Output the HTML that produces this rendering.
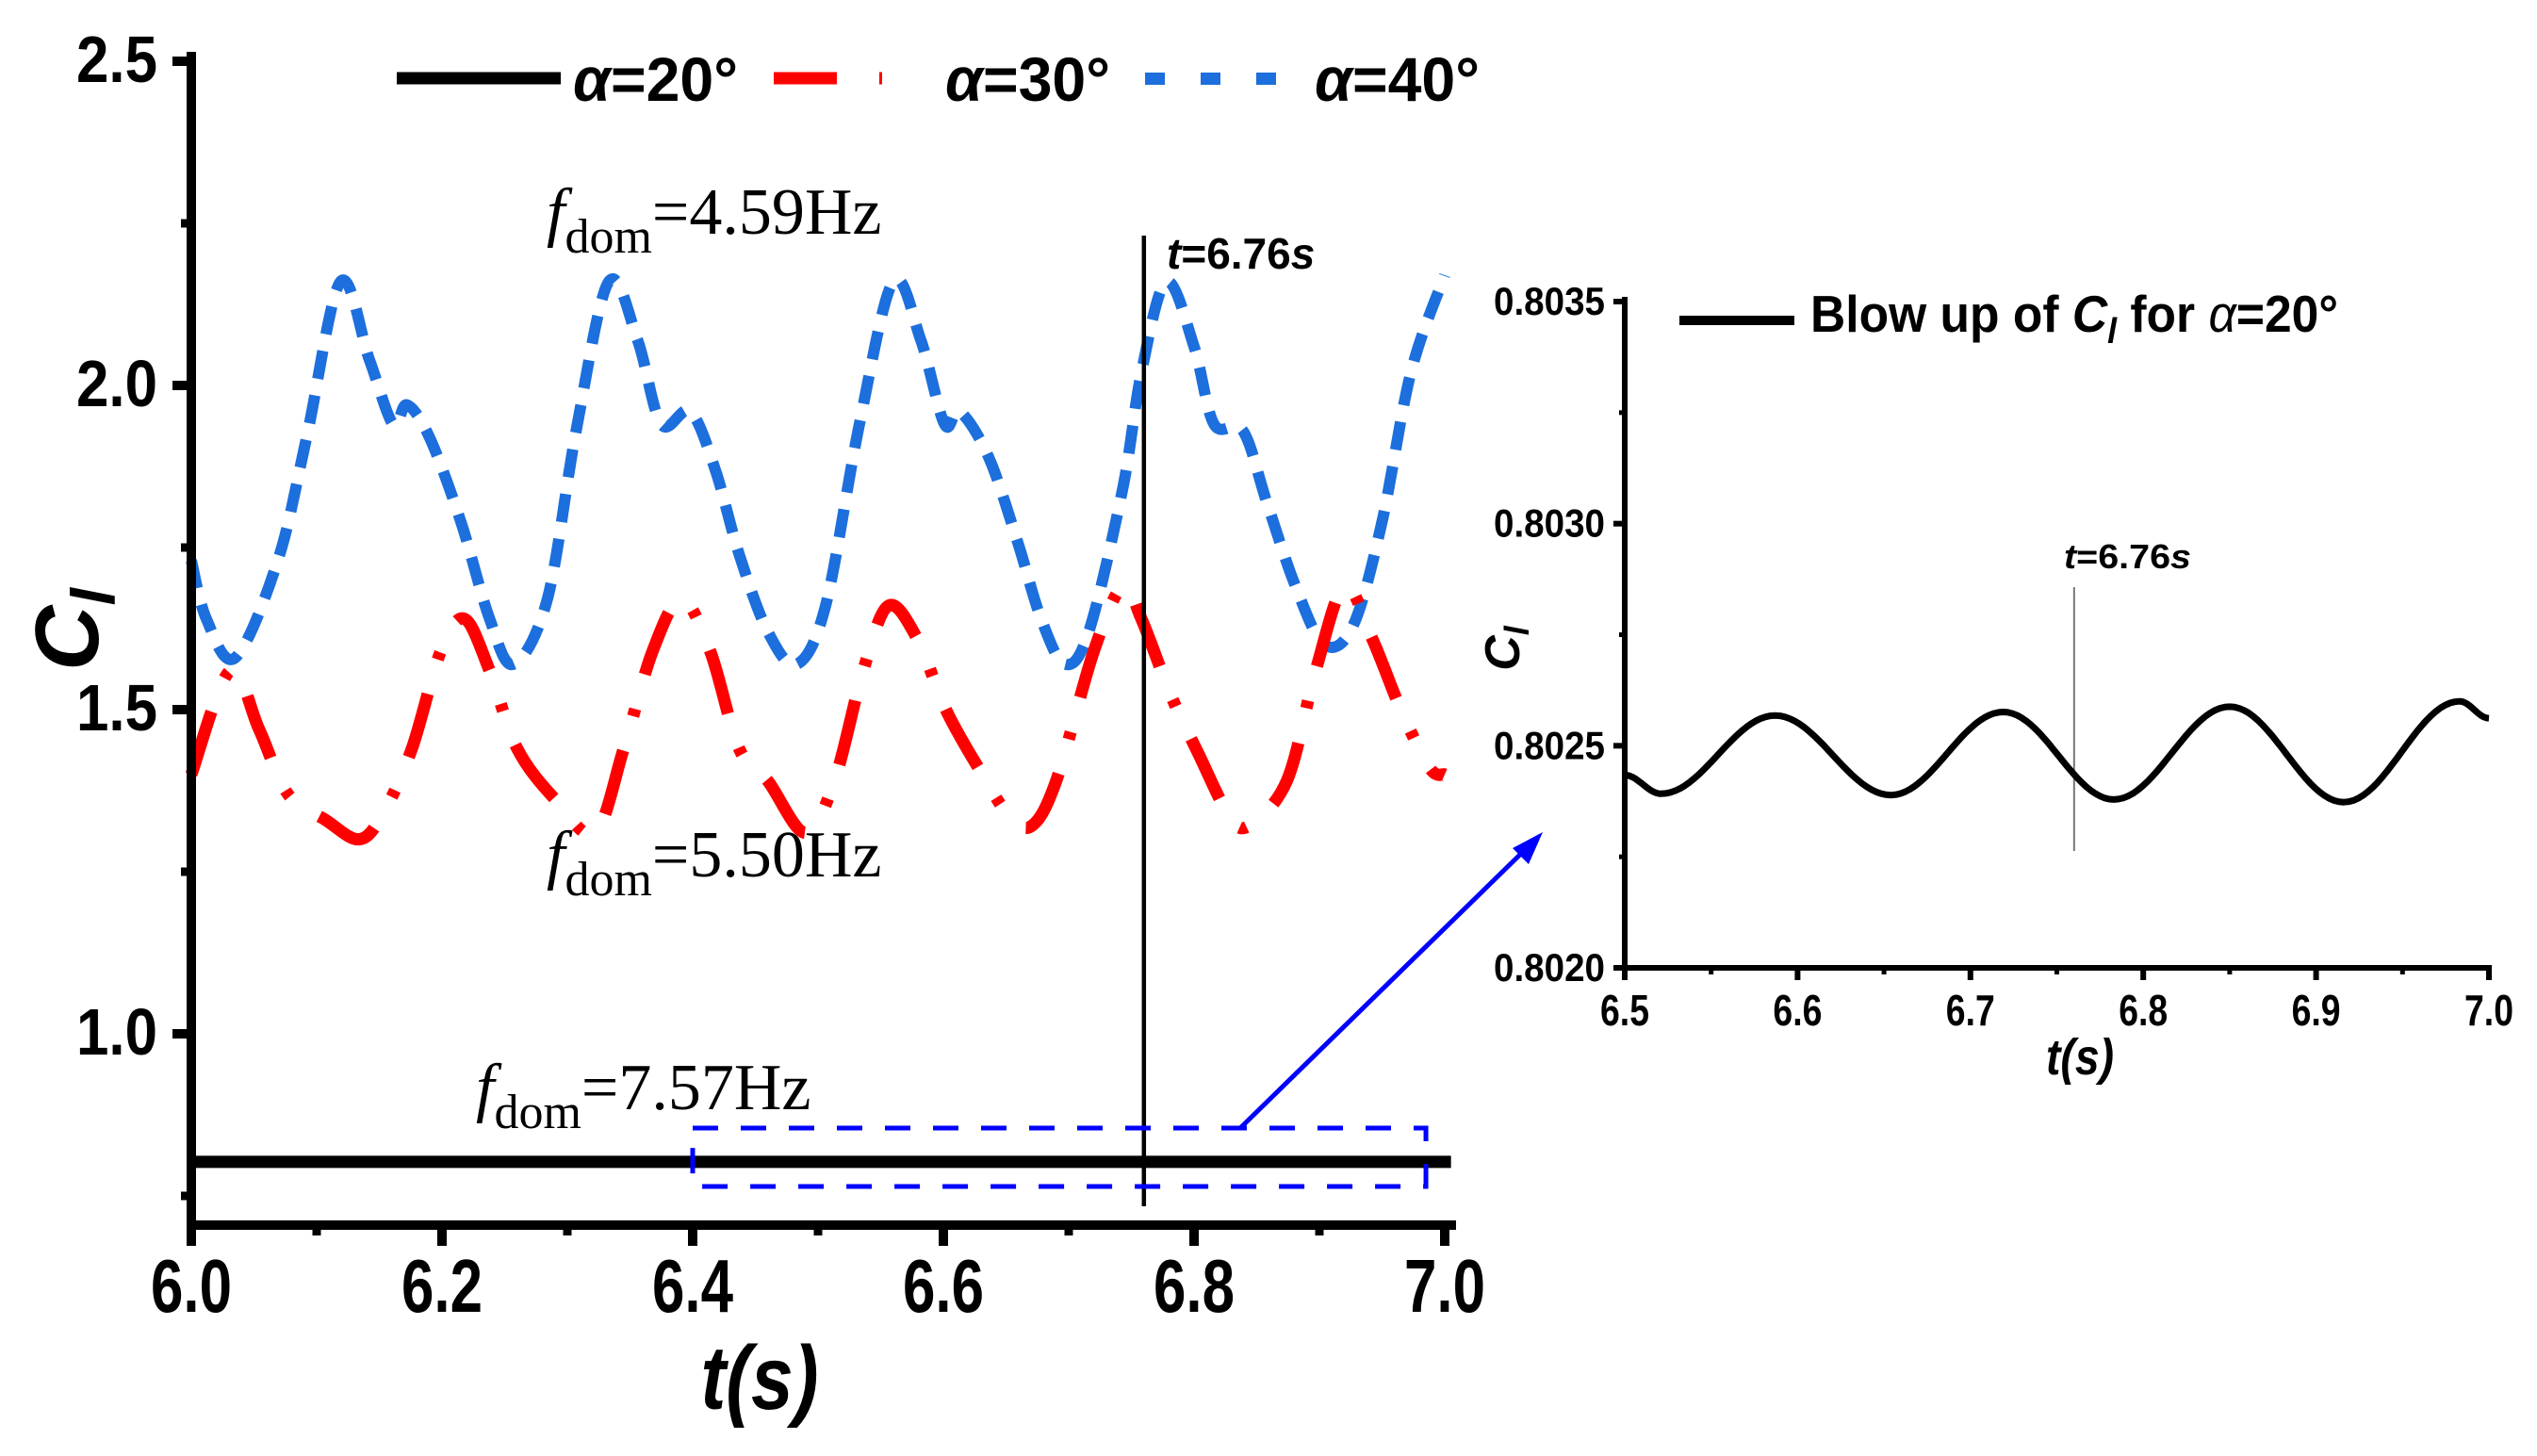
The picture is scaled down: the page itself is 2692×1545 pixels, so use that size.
<!DOCTYPE html>
<html><head><meta charset="utf-8"><style>
html,body{margin:0;padding:0;background:#fff;}
svg{display:block;}
text{font-family:"Liberation Sans",Arial,sans-serif;}
.serif{font-family:"Liberation Serif","Times New Roman",serif;}
</style></head><body>
<svg id="chart" width="2692" height="1545" viewBox="0 0 2692 1545" xmlns="http://www.w3.org/2000/svg">
</svg>
<script>
// ---- main chart data ----
const t40 = [6.0,6.012,6.035,6.069,6.092,6.119,6.142,6.161,6.172,6.19,6.215,6.238,6.257,6.284,6.307,6.333,6.356,6.375,6.398,6.418,6.437,6.46,6.483,6.506,6.533,6.56,6.582,6.601,6.613,6.636,6.659,6.678,6.697,6.716,6.743,6.758,6.778,6.8,6.816,6.839,6.858,6.881,6.904,6.927,6.95,6.973,7.0];
const cl40 = [1.73,1.64,1.58,1.73,1.92,2.16,2.04,1.94,1.97,1.92,1.79,1.64,1.57,1.67,1.93,2.16,2.07,1.94,1.96,1.87,1.74,1.62,1.57,1.66,1.94,2.16,2.07,1.94,1.96,1.89,1.76,1.64,1.57,1.62,1.84,2.02,2.16,2.06,1.94,1.93,1.82,1.69,1.60,1.63,1.79,2.02,2.17];
const t30 = [6.0,6.031,6.054,6.077,6.107,6.134,6.153,6.176,6.199,6.218,6.238,6.26,6.291,6.322,6.345,6.368,6.391,6.414,6.437,6.46,6.49,6.513,6.536,6.556,6.579,6.602,6.628,6.651,6.67,6.69,6.72,6.743,6.758,6.782,6.804,6.827,6.843,6.874,6.897,6.92,6.942,6.965,6.988,7.0];
const cl30 = [1.40,1.56,1.47,1.37,1.33,1.30,1.34,1.44,1.59,1.64,1.56,1.44,1.36,1.31,1.44,1.59,1.67,1.59,1.44,1.39,1.31,1.39,1.56,1.66,1.61,1.50,1.41,1.34,1.32,1.39,1.59,1.69,1.64,1.52,1.43,1.34,1.32,1.39,1.56,1.69,1.61,1.50,1.41,1.40];
const t20 = [6.0,7.005];
const cl20 = [0.8025,0.8025];
const xTicks = ["6.0","6.2","6.4","6.6","6.8","7.0"];
const yTicks = ["1.0","1.5","2.0","2.5"];
// ---- inset data (extrema) ----
const tIn = [6.5,6.521,6.587,6.654,6.719,6.783,6.85,6.916,6.983,7.0];
const clIn = [0.802434,0.802392,0.802568,0.802389,0.802576,0.802379,0.802588,0.802373,0.802600,0.802562];
const xTicksIn = ["6.5","6.6","6.7","6.8","6.9","7.0"];
const yTicksIn = ["0.8020","0.8025","0.8030","0.8035"];

const NS="http://www.w3.org/2000/svg";
const svg=document.getElementById('chart');
function mk(tag,attrs,parent){const e=document.createElementNS(NS,tag);for(const k in attrs)e.setAttribute(k,attrs[k]);(parent||svg).appendChild(e);return e;}
function txt(s,attrs,parent){const e=mk('text',attrs,parent);e.textContent=s;return e;}

const X=t=>203+(t-6)*1330;
const Y=v=>65+(2.5-v)*688;
const XI=t=>1724+(t-6.5)*1834;
const YI=v=>320+(0.8035-v)*(1027-320)/0.0015;

function smooth(xs,ys,fx,fy){
  const p=xs.map((x,i)=>[fx(x),fy(ys[i])]);
  let d=`M${p[0][0]},${p[0][1]}`;
  for(let i=0;i<p.length-1;i++){
    const p0=p[i-1]||p[i],p1=p[i],p2=p[i+1],p3=p[i+2]||p[i+1];
    const c1=[p1[0]+(p2[0]-p0[0])/6,p1[1]+(p2[1]-p0[1])/6];
    const c2=[p2[0]-(p3[0]-p1[0])/6,p2[1]-(p3[1]-p1[1])/6];
    d+=` C${c1[0]},${c1[1]} ${c2[0]},${c2[1]} ${p2[0]},${p2[1]}`;
  }
  return d;
}
function cosPath(xs,ys,fx,fy){
  let d='';
  for(let i=0;i<xs.length-1;i++){
    const n=24;
    for(let k=(i?1:0);k<=n;k++){
      const u=k/n, w=(1-Math.cos(Math.PI*u))/2;
      const t=xs[i]+(xs[i+1]-xs[i])*u, v=ys[i]+(ys[i+1]-ys[i])*w;
      d+=(d?' L':'M')+fx(t).toFixed(1)+','+fy(v).toFixed(1);
    }
  }
  return d;
}

const s40=mk('path',{d:smooth(t40,cl40,X,Y),fill:'none',stroke:'#1c6fdc','stroke-width':12,'stroke-dasharray':'30 18'});


const s30=mk('path',{d:smooth(t30,cl30,X,Y),fill:'none',stroke:'#ff0000','stroke-width':13,'stroke-dasharray':'70 38 8 38'});


const s20=mk('path',{d:`M${X(t20[0])},${Y(cl20[0])} L${X(t20[1])},${Y(cl20[1])}`,fill:'none',stroke:'#000','stroke-width':13});



const ax=mk('path',{d:`M203,60 V1300 H1540`,fill:'none',stroke:'#000','stroke-width':10,'stroke-linecap':'square'});


yTicks.forEach(s=>{const v=parseFloat(s);
  mk('line',{x1:183,x2:203,y1:Y(v),y2:Y(v),stroke:'#000','stroke-width':10});
  const e=txt(s,{x:167,y:Y(v)+22,'text-anchor':'end','font-size':70,'font-weight':'bold',textLength:86,lengthAdjust:'spacingAndGlyphs'});
  
  
});
[0.75,1.25,1.75,2.25].forEach(v=>mk('line',{x1:192,x2:203,y1:Y(v),y2:Y(v),stroke:'#000','stroke-width':9}));
xTicks.forEach(s=>{const t=parseFloat(s);
  mk('line',{x1:X(t),x2:X(t),y1:1300,y2:1322,stroke:'#000','stroke-width':10});
  const e=txt(s,{x:X(t),y:1392,'text-anchor':'middle','font-size':80,'font-weight':'bold',textLength:86,lengthAdjust:'spacingAndGlyphs'});
  
  
});
[6.1,6.3,6.5,6.7,6.9].forEach(t=>mk('line',{x1:X(t),x2:X(t),y1:1300,y2:1311,stroke:'#000','stroke-width':9}));

const xt=txt('t(s)',{x:806,y:1495,'text-anchor':'middle','font-size':96,'font-weight':'bold','font-style':'italic',textLength:125,lengthAdjust:'spacingAndGlyphs'});


const yt=mk('text',{transform:'translate(104,668) rotate(-90)','text-anchor':'middle','font-size':96,'font-weight':'bold','font-style':'italic'});
yt.innerHTML='C<tspan font-size="66" dy="18">l</tspan>';



const lg=mk('g',{});


mk('line',{x1:421,x2:595,y1:83,y2:83,stroke:'#000','stroke-width':13},lg);
mk('line',{x1:821,x2:888,y1:83,y2:83,stroke:'#ff0000','stroke-width':13},lg);
mk('line',{x1:933,x2:936,y1:83,y2:83,stroke:'#ff0000','stroke-width':13},lg);
[1215,1274,1333].forEach(x=>mk('rect',{x:x,y:77,width:21,height:13,fill:'#1c6fdc'},lg));
[['α=20°',608],['α=30°',1003],['α=40°',1395]].forEach(([s,x])=>{
  const e=txt('',{x:x,y:107,'font-size':66,'font-weight':'bold',textLength:175,lengthAdjust:'spacingAndGlyphs'},lg);
  e.innerHTML='<tspan font-style="italic">α</tspan>'+s.slice(1);
  
  
});

[['4.59',580,248],['5.50',580,930],['7.57',505,1177]].forEach(([f,x,y])=>{
  const e=txt('',{x:x,y:y,'font-size':70,class:'serif'});
  e.innerHTML=`<tspan font-style="italic">f</tspan><tspan font-size="52" dy="20">dom</tspan><tspan dy="-20">=${f}Hz</tspan>`;
  
  
});
const vl=mk('line',{x1:X(6.76),x2:X(6.76),y1:250,y2:1280,stroke:'#000','stroke-width':4.5});


const tl=txt('',{x:1238,y:285,'font-size':46,'font-weight':'bold'});
tl.innerHTML='<tspan font-style="italic">t</tspan>=6.76<tspan font-style="italic">s</tspan>';


const zr=mk('rect',{x:X(6.4),y:1197,width:X(6.985)-X(6.4),height:62,fill:'none',stroke:'#0000ff','stroke-width':5,'stroke-dasharray':'27 24'});


const ar=mk('line',{x1:1316,y1:1197,x2:1625,y2:895,stroke:'#0000ff','stroke-width':5});


mk('path',{d:'M1637,883 L1622,917 L1605,900 z',fill:'#0000ff'});

const ig=mk('g',{});


const iv=mk('line',{x1:XI(6.76),x2:XI(6.76),y1:623,y2:903,stroke:'#777','stroke-width':2},ig);


const it=txt('',{x:2190,y:603,'font-size':36,'font-weight':'bold',textLength:135,lengthAdjust:'spacingAndGlyphs'},ig);
it.innerHTML='<tspan font-style="italic">t</tspan>=6.76<tspan font-style="italic">s</tspan>';


const sIn=mk('path',{d:cosPath(tIn,clIn,XI,YI),fill:'none',stroke:'#000','stroke-width':7,'stroke-linejoin':'round'},ig);


mk('path',{d:`M1724,318 V1027 H2641`,fill:'none',stroke:'#000','stroke-width':6,'stroke-linecap':'square'},ig);
yTicksIn.forEach(s=>{const v=parseFloat(s);
  mk('line',{x1:1712,x2:1724,y1:YI(v),y2:YI(v),stroke:'#000','stroke-width':6},ig);
  const e=txt(s,{x:1703,y:YI(v)+14,'text-anchor':'end','font-size':42,'font-weight':'bold',textLength:118,lengthAdjust:'spacingAndGlyphs'},ig);
  
  
});
[0.80225,0.80275,0.80325].forEach(v=>mk('line',{x1:1718,x2:1724,y1:YI(v),y2:YI(v),stroke:'#000','stroke-width':5},ig));
xTicksIn.forEach(s=>{const t=parseFloat(s);
  mk('line',{x1:XI(t),x2:XI(t),y1:1027,y2:1040,stroke:'#000','stroke-width':6},ig);
  const e=txt(s,{x:XI(t),y:1088,'text-anchor':'middle','font-size':46,'font-weight':'bold',textLength:52,lengthAdjust:'spacingAndGlyphs'},ig);
  
  
});
[6.55,6.65,6.75,6.85,6.95].forEach(t=>mk('line',{x1:XI(t),x2:XI(t),y1:1027,y2:1034,stroke:'#000','stroke-width':5},ig));
const ixt=txt('t(s)',{x:2207,y:1140,'text-anchor':'middle','font-size':54,'font-weight':'bold','font-style':'italic',textLength:72,lengthAdjust:'spacingAndGlyphs'},ig);


const iyt=mk('text',{transform:'translate(1612,688) rotate(-90)','text-anchor':'middle','font-size':52,'font-weight':'bold','font-style':'italic'},ig);
iyt.innerHTML='C<tspan font-size="36" dy="10">l</tspan>';


mk('line',{x1:1782,x2:1904,y1:340,y2:340,stroke:'#000','stroke-width':10},ig);
const il=txt('',{x:1921,y:352,'font-size':55,'font-weight':'bold',textLength:560,lengthAdjust:'spacingAndGlyphs'},ig);
il.innerHTML='Blow up of <tspan font-style="italic">C</tspan><tspan font-style="italic" font-size="38" dy="12">l</tspan><tspan dy="-12"> for </tspan><tspan font-style="italic" font-weight="normal">α</tspan>=20°';


</script>
</body></html>
